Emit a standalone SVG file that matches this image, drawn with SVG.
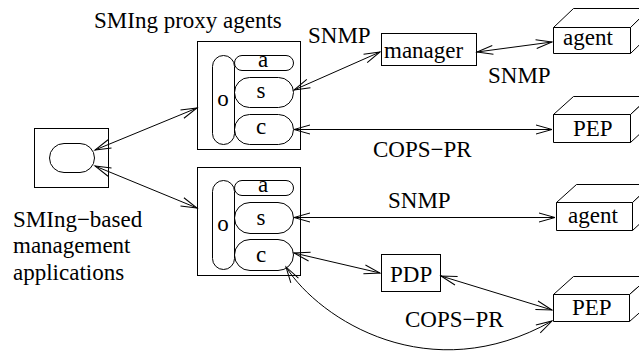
<svg xmlns="http://www.w3.org/2000/svg" width="639" height="351" viewBox="0 0 639 351" font-family="Liberation Serif, Times New Roman, serif">
  <style>
    .box { fill: #fff; stroke: #000; stroke-width: 1; }
    .pill { fill: none; stroke: #000; stroke-width: 1; }
    .face { fill: #fff; stroke: #000; stroke-width: 1; stroke-linejoin: round; }
    text { font-family: 'Liberation Serif', 'Times New Roman', serif; font-size: 23px; fill: #000; }
    .mid { text-anchor: middle; }
    .conn { fill: none; stroke: #000; stroke-width: 1; marker-start: url(#open); marker-end: url(#open); }
  </style>
  <defs>
    <marker id="open" viewBox="0 0 17 10" refX="16" refY="4.5" markerWidth="17" markerHeight="10" markerUnits="userSpaceOnUse" orient="auto-start-reverse" overflow="visible">
      <path d="M0,0 L16,4.5 L0,9" fill="none" stroke="#000" stroke-width="1"/>
    </marker>
  </defs>
  <rect width="639" height="351" fill="#fff"/>

  <!-- management application -->
  <g id="app">
    <rect class="box" x="34.5" y="128.5" width="74" height="59"/>
    <rect class="pill" x="49.5" y="143.5" width="45" height="29" rx="14.5"/>
    <text x="13" y="227">SMIng−based</text>
    <text x="13" y="253">management</text>
    <text x="13" y="280">applications</text>
  </g>

  <text x="94" y="28">SMIng proxy agents</text>

  <!-- upper proxy agent -->
  <g id="proxy1">
    <rect class="box" x="197.5" y="41.5" width="103" height="108"/>
    <rect class="pill" x="212.5" y="55.5" width="22" height="89" rx="11"/>
    <rect class="pill" x="234.5" y="55.5" width="59" height="15" rx="7.5"/>
    <rect class="pill" x="234.5" y="77.5" width="59" height="30" rx="15"/>
    <rect class="pill" x="234.5" y="114.5" width="59" height="30" rx="15"/>
    <text class="mid" x="223" y="106">o</text>
    <text class="mid" x="263" y="67">a</text>
    <text class="mid" x="261" y="98">s</text>
    <text class="mid" x="261" y="134">c</text>
  </g>

  <!-- lower proxy agent -->
  <g id="proxy2">
    <rect class="box" x="197.5" y="167.5" width="103" height="108"/>
    <rect class="pill" x="212.5" y="180.5" width="22" height="89" rx="11"/>
    <rect class="pill" x="234.5" y="180.5" width="59" height="15" rx="7.5"/>
    <rect class="pill" x="234.5" y="202.5" width="59" height="31" rx="15.5"/>
    <rect class="pill" x="234.5" y="239.5" width="59" height="31" rx="15.5"/>
    <text class="mid" x="223" y="231">o</text>
    <text class="mid" x="263" y="192">a</text>
    <text class="mid" x="261" y="225">s</text>
    <text class="mid" x="261" y="262">c</text>
  </g>

  <!-- manager -->
  <g id="manager">
    <rect class="box" x="381.5" y="33.5" width="95" height="32"/>
    <text x="384" y="58">manager</text>
  </g>

  <!-- PDP -->
  <g id="pdp">
    <rect class="box" x="381.5" y="254.5" width="59" height="37"/>
    <text x="390" y="282">PDP</text>
  </g>

  <!-- 3D boxes: front, top and right faces -->
  <g id="agent1">
    <polygon class="face" points="553.5,27.5 573.5,8.5 650,8.5 630.5,27.5"/>
    <polygon class="face" points="630.5,27.5 650,8.5 650,34.5 630.5,53.5"/>
    <rect class="face" x="553.5" y="27.5" width="77" height="26"/>
    <text x="563" y="45">agent</text>
  </g>
  <g id="pep1">
    <polygon class="face" points="553.5,114.5 573.5,96.5 650,96.5 630.5,114.5"/>
    <polygon class="face" points="630.5,114.5 650,96.5 650,124.5 630.5,142.5"/>
    <rect class="face" x="553.5" y="114.5" width="77" height="28"/>
    <text x="573" y="136">PEP</text>
  </g>
  <g id="agent2">
    <polygon class="face" points="556.5,202.5 576.5,184.5 652,184.5 632.5,202.5"/>
    <polygon class="face" points="632.5,202.5 652,184.5 652,212.5 632.5,230.5"/>
    <rect class="face" x="556.5" y="202.5" width="76" height="28"/>
    <text x="568" y="223">agent</text>
  </g>
  <g id="pep2">
    <polygon class="face" points="553.5,294.5 573.5,276.5 650,276.5 629.5,294.5"/>
    <polygon class="face" points="629.5,294.5 650,276.5 650,303.5 629.5,321.5"/>
    <rect class="face" x="553.5" y="294.5" width="76" height="27"/>
    <text x="572" y="315">PEP</text>
  </g>

  <!-- connectors -->
  <g id="connectors">
    <line class="conn" x1="95" y1="150" x2="197" y2="108"/>
    <line class="conn" x1="95" y1="166" x2="197" y2="208"/>
    <line class="conn" x1="294" y1="90" x2="380" y2="52"/>
    <line class="conn" x1="477" y1="52" x2="552" y2="42"/>
    <line class="conn" x1="294" y1="129.5" x2="552" y2="129.5"/>
    <line class="conn" x1="294" y1="217.5" x2="555" y2="217.5"/>
    <line class="conn" x1="294" y1="253" x2="380" y2="273"/>
    <line class="conn" x1="441" y1="276" x2="552" y2="310"/>
    <path class="conn" d="M286,267 C320,320 430,390 552,321"/>
  </g>

  <!-- connector labels -->
  <g id="labels">
    <text x="308" y="43">SNMP</text>
    <text x="488" y="83">SNMP</text>
    <text x="373" y="157">COPS−PR</text>
    <text x="388" y="208">SNMP</text>
    <text x="405" y="327">COPS−PR</text>
  </g>
</svg>
